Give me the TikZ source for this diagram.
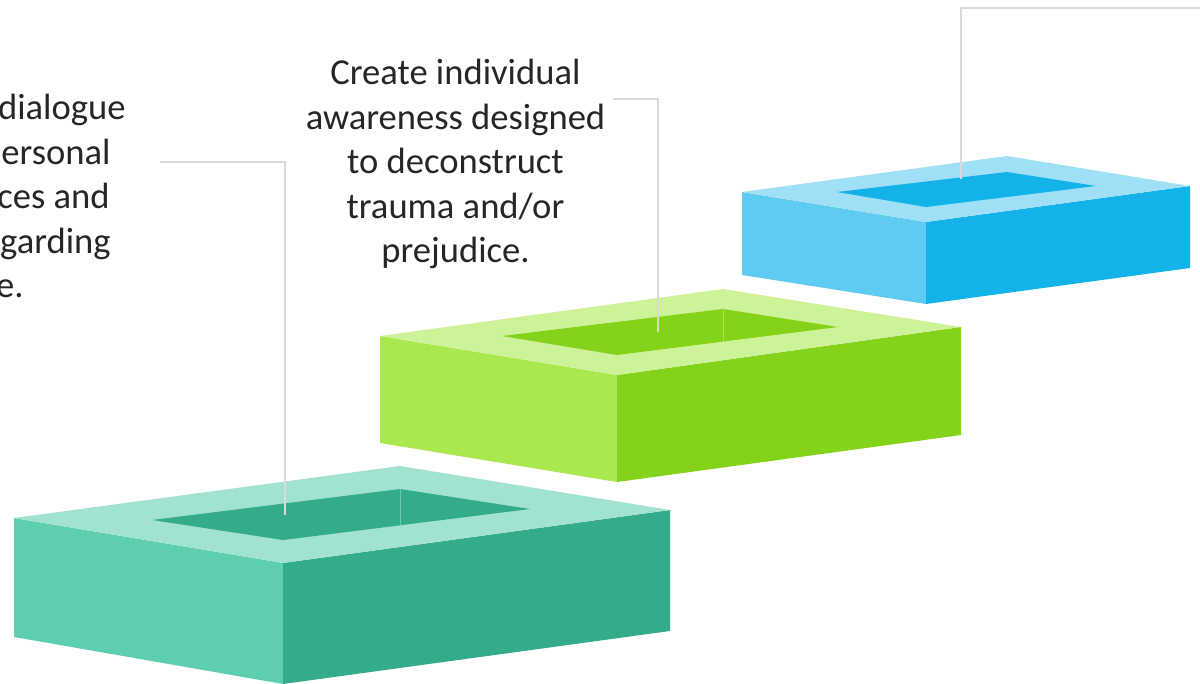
\documentclass[tikz,border=0pt]{standalone}
\usepackage{fontspec}
\setmainfont{Carlito}
\usepackage{xcolor}
\usepackage{tikz}
\definecolor{tealtop}{HTML}{A2E2D0}
\definecolor{tealleft}{HTML}{5DCFB0}
\definecolor{tealright}{HTML}{34AC8B}
\definecolor{greentop}{HTML}{CDF298}
\definecolor{greenleft}{HTML}{A9E94F}
\definecolor{greenright}{HTML}{83D31A}
\definecolor{bluetop}{HTML}{A0E0F7}
\definecolor{blueleft}{HTML}{5FCBF3}
\definecolor{blueright}{HTML}{13B2E8}
\definecolor{leadergray}{HTML}{D9D9D9}
\def\largeur{1200}
\def\hauteur{684}

\begin{document}
\begin{tikzpicture}[x=0.5pt, y=-0.5pt,
	leaderline/.style={draw=leadergray, line width=0.7pt},
	stepfont/.style={font=\fontsize{18.3}{22.25}\selectfont, text=black!85, inner sep=0pt},
	seam/.style={line width=0.4pt}]
	\useasboundingbox (0,0) rectangle (\largeur,\hauteur);
	% teal step
	\fill[tealleft] (14,518) -- (283,563) -- (283,684) -- (14,637) -- cycle;
	\fill[tealright] (283,563) -- (670,510) -- (670,631) -- (283,684) -- cycle;
	\fill[tealtop] (14,518) -- (400,466) -- (670,510) -- (283,563) -- cycle;
	\fill[tealright] (152,520) -- (400,489) -- (530,509) -- (283,540) -- cycle;
	\draw[seam, tealtop!50!tealright] (400,489) -- (400,525);
	% green step
	\fill[greenleft] (380,336) -- (617,375) -- (617,482) -- (380,443) -- cycle;
	\fill[greenright] (617,375) -- (961,327) -- (961,435) -- (617,482) -- cycle;
	\fill[greentop] (380,336) -- (723,289) -- (961,327) -- (617,375) -- cycle;
	\fill[greenright] (502,336) -- (723,309) -- (838,327) -- (617,355) -- cycle;
	\draw[seam, greentop!50!greenright] (723,309) -- (723,342);
	% blue step
	\fill[blueleft] (742,192) -- (926,222) -- (926,304) -- (742,275) -- cycle;
	\fill[blueright] (926,222) -- (1190,186) -- (1190,268) -- (926,304) -- cycle;
	\fill[bluetop] (742,192) -- (1007,156) -- (1190,186) -- (926,222) -- cycle;
	\fill[blueright] (837,192) -- (1007,172) -- (1096,186) -- (926,207) -- cycle;

	% texts
	\node[stepfont, anchor=base east] (dial1) at (126,120) {dialogue};
	\node[stepfont, anchor=base east] (dial2) at (111,165) {ersonal};
	\node[stepfont, anchor=base east] (dial3) at (110,209) {ces and};
	\node[stepfont, anchor=base east] (dial4) at (111,254) {garding};
	\node[stepfont, anchor=base east] (dial5) at (24,298) {e.};
	\node[stepfont, align=center] (aware) at (455.5,164) {Create individual\\awareness designed\\to deconstruct\\trauma and/or\\prejudice.};

	% leader lines
	\coordinate (dialend) at (160,162);
	\coordinate (dialbox) at (285,515);
	\coordinate (awareend) at (613,99);
	\coordinate (awarebox) at (658,332);
	\coordinate (topend) at (\largeur,8);
	\coordinate (topbox) at (961,179);
	\draw[leaderline] (dialend) -| (dialbox);
	\draw[leaderline] (awareend) -| (awarebox);
	\draw[leaderline] (topend) -| (topbox);
\end{tikzpicture}
\end{document}
